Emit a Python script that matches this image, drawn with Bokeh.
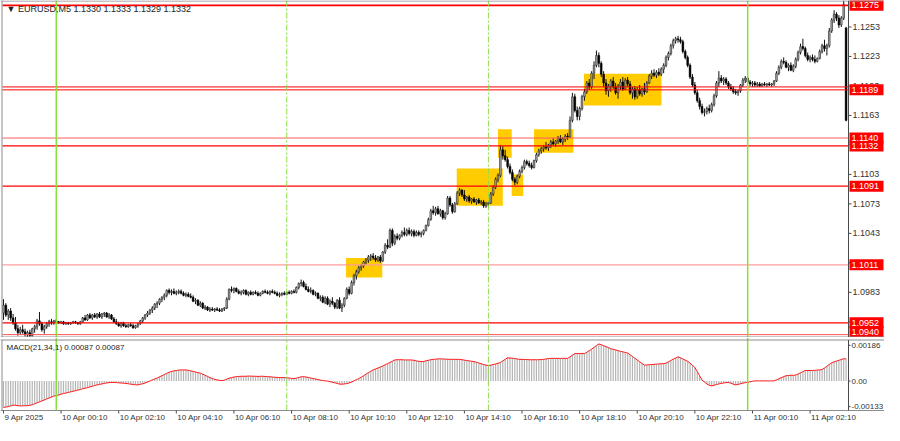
from bokeh.plotting import figure
from bokeh.models import ColumnDataSource, Range1d, Span, Label
from bokeh.core.properties import value
from bokeh.layouts import column
from bokeh.embed import file_html
from bokeh.resources import INLINE

# ---------------- data ----------------
SYMBOL_HEADER = "\u25bc EURUSD,M5 1.1330 1.1333 1.1329 1.1332"
MACD_HEADER = "MACD(21,34,1) 0.00087 0.00087"
PRICE_BASE = 1.0900
PIP = 0.0001

# M5 bars from 9 Apr 2025 22:10, prices in pips above PRICE_BASE
OPEN_PIPS = [
    62, 70, 60, 64, 57, 52, 46, 42, 45, 43, 40, 42, 39, 46, 48, 54,
    51, 45, 48, 51, 53, 52, 54, 53, 52, 53, 51, 52, 51, 52, 53, 52,
    51, 53, 57, 55, 60, 57, 60, 58, 61, 58, 61, 62, 58, 60, 56, 53,
    51, 49, 52, 49, 48, 50, 49, 47, 49, 51, 54, 57, 60, 62, 65, 67,
    71, 72, 76, 78, 80, 85, 83, 84, 82, 83, 84, 82, 80, 81, 79, 78,
    74, 75, 70, 72, 67, 68, 65, 66, 65, 66, 65, 64, 66, 67, 76, 86,
    85, 87, 84, 82, 83, 85, 81, 83, 81, 83, 82, 80, 82, 84, 83, 82,
    84, 83, 82, 80, 81, 82, 81, 83, 82, 84, 83, 88, 92, 93, 89, 86,
    84, 85, 81, 82, 77, 78, 73, 77, 71, 74, 72, 68, 75, 67, 70, 77,
    86, 82, 93, 100, 104, 108, 110, 114, 116, 119, 120, 118, 116, 119, 115, 124,
    131, 129, 146, 133, 140, 138, 141, 144, 142, 146, 143, 145, 141, 144, 142, 143,
    146, 151, 157, 166, 164, 168, 163, 166, 159, 163, 179, 172, 165, 173, 184, 187,
    182, 178, 180, 176, 178, 175, 177, 174, 175, 171, 173, 174, 183, 190, 198, 202,
    228, 222, 218, 211, 205, 198, 195, 201, 206, 210, 216, 214, 212, 210, 217, 223,
    227, 229, 231, 230, 233, 236, 234, 237, 240, 236, 239, 242, 241, 258, 282, 268,
    262, 270, 282, 287, 296, 292, 306, 314, 324, 316, 305, 296, 288, 293, 298, 292,
    286, 293, 297, 290, 299, 295, 286, 290, 282, 289, 285, 290, 287, 296, 303, 306,
    304, 307, 305, 310, 314, 322, 326, 334, 339, 341, 340, 338, 328, 322, 314, 302,
    294, 286, 278, 272, 266, 267, 270, 268, 274, 283, 296, 301, 298, 300, 296, 292,
    290, 287, 286, 288, 294, 299, 301, 297, 295, 296, 294, 295, 293, 295, 294, 295,
    294, 295, 298, 306, 312, 318, 317, 312, 314, 309, 313, 320, 327, 333, 331, 324,
    320, 322, 320, 318, 321, 328, 334, 331, 334, 349, 360, 366, 362, 355, 362, 352,
]
HIGH_PIPS = [
    76, 72, 66, 67, 61, 58, 50, 48, 50, 46, 44, 45, 47, 50, 56, 63,
    53, 50, 53, 55, 56, 55, 56, 54, 54, 54, 53, 53, 53, 54, 54, 53,
    54, 58, 60, 61, 62, 61, 62, 62, 63, 62, 63, 63, 62, 61, 58, 56,
    53, 53, 53, 51, 51, 52, 51, 50, 52, 55, 58, 61, 64, 66, 69, 72,
    74, 77, 79, 82, 86, 87, 86, 87, 85, 86, 86, 84, 83, 83, 82, 80,
    77, 76, 74, 73, 70, 69, 68, 68, 67, 68, 67, 67, 68, 78, 87, 89,
    88, 88, 86, 85, 86, 86, 84, 85, 84, 85, 84, 83, 85, 86, 85, 85,
    86, 85, 84, 83, 83, 84, 84, 85, 85, 86, 89, 93, 96, 95, 92, 89,
    88, 86, 84, 83, 80, 80, 79, 79, 76, 78, 73, 76, 78, 72, 78, 88,
    89, 95, 102, 106, 110, 112, 115, 118, 121, 122, 123, 121, 120, 121, 125, 133,
    137, 148, 148, 142, 143, 142, 146, 149, 148, 149, 147, 147, 146, 146, 145, 147,
    152, 159, 168, 171, 170, 171, 168, 167, 165, 181, 181, 174, 175, 186, 189, 188,
    187, 181, 182, 179, 180, 178, 179, 177, 177, 175, 176, 185, 192, 200, 204, 233,
    232, 228, 221, 214, 208, 200, 203, 208, 212, 218, 218, 217, 215, 218, 225, 229,
    231, 233, 236, 234, 238, 240, 238, 242, 243, 241, 244, 245, 262, 286, 285, 272,
    272, 284, 290, 298, 300, 308, 318, 329, 327, 318, 308, 300, 295, 300, 302, 296,
    295, 300, 302, 301, 302, 298, 292, 293, 292, 294, 291, 296, 298, 305, 309, 310,
    309, 311, 312, 316, 324, 328, 336, 341, 343, 344, 343, 340, 330, 324, 316, 305,
    297, 289, 281, 275, 270, 272, 274, 276, 285, 298, 308, 304, 302, 302, 298, 295,
    293, 290, 289, 295, 301, 303, 302, 299, 298, 298, 297, 297, 296, 297, 296, 297,
    296, 299, 308, 314, 320, 322, 319, 316, 317, 315, 322, 329, 336, 341, 333, 327,
    324, 325, 324, 322, 330, 336, 340, 336, 352, 362, 370, 368, 365, 364, 380, 353,
]
LOW_PIPS = [
    55, 58, 55, 54, 50, 44, 39, 40, 41, 38, 37, 37, 38, 42, 45, 49,
    43, 41, 46, 48, 50, 50, 51, 51, 51, 50, 50, 50, 50, 51, 51, 50,
    50, 52, 54, 54, 56, 55, 57, 56, 57, 56, 58, 57, 56, 55, 52, 50,
    48, 47, 48, 47, 47, 48, 46, 46, 47, 50, 52, 55, 58, 60, 62, 65,
    67, 70, 73, 75, 78, 81, 80, 81, 80, 81, 81, 79, 78, 78, 77, 73,
    71, 69, 68, 66, 65, 64, 63, 64, 63, 64, 63, 63, 64, 66, 75, 83,
    82, 83, 81, 80, 81, 80, 79, 80, 80, 81, 79, 79, 81, 82, 81, 80,
    82, 81, 79, 78, 79, 80, 80, 81, 81, 82, 82, 86, 89, 88, 85, 83,
    82, 80, 79, 76, 74, 72, 71, 70, 68, 70, 66, 66, 66, 63, 68, 76,
    80, 81, 90, 96, 102, 105, 108, 111, 113, 115, 116, 114, 114, 113, 114, 122,
    127, 128, 130, 131, 136, 136, 139, 140, 140, 141, 140, 139, 140, 140, 139, 141,
    145, 150, 156, 162, 161, 162, 160, 157, 157, 162, 170, 163, 164, 172, 181, 180,
    176, 175, 174, 173, 174, 172, 173, 172, 169, 169, 170, 173, 181, 188, 195, 200,
    218, 216, 209, 203, 196, 192, 193, 199, 204, 208, 212, 210, 208, 209, 215, 221,
    224, 226, 228, 227, 230, 232, 231, 234, 235, 233, 236, 238, 240, 256, 266, 258,
    258, 268, 278, 285, 289, 290, 300, 312, 312, 302, 292, 284, 282, 287, 290, 284,
    280, 289, 288, 289, 292, 284, 280, 279, 280, 283, 282, 284, 286, 295, 300, 302,
    301, 303, 303, 306, 312, 319, 324, 331, 336, 337, 336, 326, 320, 312, 300, 292,
    284, 276, 269, 264, 262, 264, 265, 266, 272, 281, 292, 296, 294, 294, 290, 288,
    285, 284, 283, 286, 292, 296, 296, 293, 292, 292, 292, 292, 292, 293, 292, 293,
    292, 293, 297, 304, 310, 315, 311, 308, 308, 307, 311, 318, 325, 329, 322, 318,
    317, 318, 316, 317, 320, 326, 328, 324, 332, 347, 357, 359, 352, 353, 360, 257,
]
CLOSE_PIPS = [
    70, 60, 64, 57, 52, 46, 42, 45, 43, 40, 42, 39, 46, 48, 54, 51,
    45, 48, 51, 53, 52, 54, 53, 52, 53, 51, 52, 51, 52, 53, 52, 51,
    53, 57, 55, 60, 57, 60, 58, 61, 58, 61, 62, 58, 60, 56, 53, 51,
    49, 52, 49, 48, 50, 49, 47, 49, 51, 54, 57, 60, 62, 65, 67, 71,
    72, 76, 78, 80, 85, 83, 84, 82, 83, 84, 82, 80, 81, 79, 78, 74,
    75, 70, 72, 67, 68, 65, 66, 65, 66, 65, 64, 66, 67, 76, 86, 85,
    87, 84, 82, 83, 85, 81, 83, 81, 83, 82, 80, 82, 84, 83, 82, 84,
    83, 82, 80, 81, 82, 81, 83, 82, 84, 83, 88, 92, 93, 89, 86, 84,
    85, 81, 82, 77, 78, 73, 77, 71, 74, 72, 68, 75, 67, 70, 77, 86,
    82, 93, 100, 104, 108, 110, 114, 116, 119, 120, 118, 116, 119, 115, 124, 131,
    129, 146, 133, 140, 138, 141, 144, 142, 146, 143, 145, 141, 144, 142, 143, 146,
    151, 157, 166, 164, 168, 163, 166, 159, 163, 179, 172, 165, 173, 184, 187, 182,
    178, 180, 176, 178, 175, 177, 174, 175, 171, 173, 174, 183, 190, 198, 202, 228,
    222, 218, 211, 205, 198, 195, 201, 206, 210, 216, 214, 212, 210, 217, 223, 227,
    229, 231, 230, 233, 236, 234, 237, 240, 236, 239, 242, 241, 258, 282, 268, 262,
    270, 282, 287, 296, 292, 306, 314, 324, 316, 305, 296, 288, 293, 298, 292, 286,
    293, 297, 290, 299, 295, 286, 290, 282, 289, 285, 290, 287, 296, 303, 306, 304,
    307, 305, 310, 314, 322, 326, 334, 339, 341, 340, 338, 328, 322, 314, 302, 294,
    286, 278, 272, 266, 267, 270, 268, 274, 283, 296, 301, 298, 300, 296, 292, 290,
    287, 286, 288, 294, 299, 301, 297, 295, 296, 294, 295, 293, 295, 294, 295, 294,
    295, 298, 306, 312, 318, 317, 312, 314, 309, 313, 320, 327, 333, 331, 324, 320,
    322, 320, 318, 321, 328, 334, 331, 334, 349, 360, 366, 362, 355, 362, 376, 258,
]
# MACD(21,34,1) main (= signal), in units of 0.00001
MACD_E5 = [
    -137, -135, -133, -129, -125, -126, -128, -129, -129, -128, -128, -126, -123, -118, -113, -108,
    -103, -98, -93, -88, -83, -78, -75, -72, -68, -65, -62, -59, -56, -53, -50, -47,
    -44, -40, -37, -34, -30, -27, -23, -20, -17, -15, -12, -10, -8, -7, -7, -8,
    -9, -10, -11, -12, -14, -16, -18, -19, -20, -17, -14, -10, -5, 0, 6, 11,
    16, 22, 28, 34, 40, 46, 50, 53, 55, 57, 58, 58, 58, 56, 53, 50,
    47, 44, 41, 36, 30, 24, 18, 13, 9, 6, 4, 2, 5, 10, 15, 18,
    21, 23, 24, 25, 25, 25, 26, 26, 25, 25, 24, 25, 25, 24, 23, 22,
    21, 20, 19, 18, 18, 18, 17, 16, 14, 13, 15, 19, 22, 23, 21, 19,
    16, 13, 11, 8, 5, 3, 1, 0, -3, -6, -9, -12, -16, -16, -15, -13,
    -10, -5, 1, 7, 13, 20, 28, 36, 44, 51, 58, 63, 68, 73, 78, 85,
    91, 97, 103, 110, 111, 111, 111, 110, 110, 110, 110, 108, 105, 103, 101, 102,
    105, 108, 111, 113, 114, 115, 116, 115, 114, 114, 113, 113, 113, 113, 113, 111,
    109, 107, 105, 103, 101, 98, 94, 90, 86, 83, 80, 83, 86, 89, 93, 96,
    105, 113, 121, 120, 119, 117, 115, 113, 113, 112, 112, 111, 111, 111, 111, 111,
    112, 113, 115, 117, 118, 118, 118, 118, 118, 118, 118, 118, 126, 135, 143, 143,
    143, 143, 143, 150, 158, 166, 175, 185, 193, 189, 184, 179, 174, 168, 165, 162,
    158, 155, 152, 149, 146, 137, 128, 119, 110, 101, 92, 83, 84, 85, 86, 87,
    88, 89, 90, 91, 93, 100, 107, 114, 120, 126, 121, 115, 109, 103, 93, 82,
    71, 49, 27, 5, -5, -15, -22, -25, -22, -18, -15, -12, -10, -8, -7, -11,
    -16, -20, -17, -14, -11, -8, -7, -4, -1, 1, 1, 1, 1, 1, 1, 1,
    1, 1, 6, 12, 18, 23, 28, 29, 30, 30, 31, 37, 43, 49, 55, 55,
    55, 55, 56, 57, 58, 60, 68, 77, 86, 95, 100, 104, 108, 112, 116, 116,
]

LEVELS = [1.1275, 1.1192, 1.1189, 1.1140, 1.1132, 1.1091, 1.1011, 1.0952, 1.0940]
LEVEL_TAGS = [1.1275, 1.1189, 1.1140, 1.1132, 1.1091, 1.1011, 1.0952, 1.0940]
PRICE_TICKS = [1.0953, 1.0983, 1.1013, 1.1043, 1.1073, 1.1103, 1.1133, 1.1163, 1.1193, 1.1223, 1.1253]
MACD_TICKS = [-0.00133, 0.0, 0.00186]
MACD_TICK_TEXT = ["-0.00133", "0.00", "0.00186"]
TIME_TICK_BARS = [0, 24, 48, 72, 96, 120, 144, 168, 192, 216, 240, 264, 288, 312, 336]
TIME_TICK_TEXT = ["9 Apr 2025", "10 Apr 00:10", "10 Apr 02:10", "10 Apr 04:10", "10 Apr 06:10",
                  "10 Apr 08:10", "10 Apr 10:10", "10 Apr 12:10", "10 Apr 14:10", "10 Apr 16:10",
                  "10 Apr 18:10", "10 Apr 20:10", "10 Apr 22:10", "11 Apr 00:10", "11 Apr 02:10"]
DAY_START_BARS = [22, 310]
SESSION_BARS = [118, 202]
ZONE_START = [142.7, 188.8, 206.0, 211.7, 221.0, 241.8]
ZONE_END = [157.8, 208.0, 211.7, 216.5, 237.4, 274.1]
ZONE_TOP = [1.1018, 1.1109, 1.1149, 1.1103, 1.1149, 1.12055]
ZONE_BOTTOM = [1.0998, 1.1071, 1.1120, 1.1081, 1.1125, 1.1173]

# ---------------- layout / styles ----------------
FONT = "Liberation Sans"
W = 884
H1, H2 = 337, 88
SCALE_W = 36                              # width of the price scale, px
CHART_X0, CHART_X1 = -0.4, 352.0          # bar range of the chart area
PX_BAR = (W - 2.0 - SCALE_W) / (CHART_X1 - CHART_X0)
XR = Range1d(CHART_X0 - 2.0 / PX_BAR, CHART_X1 + SCALE_W / PX_BAR)

P_TOP, P_BOT = 1.12789, 1.09381           # price at chart top/bottom
PX_P = 335.0 / (P_TOP - P_BOT)
Y1R = Range1d(P_BOT - 1.0 / PX_P, P_TOP + 1.0 / PX_P)

M_TOP, M_BOT = 0.00211, -0.00153
PX_M = 70.0 / (M_TOP - M_BOT)
Y2R = Range1d(M_BOT - 15.0 / PX_M, M_TOP + 3.0 / PX_M)

LEVEL_COLOR = ["#ff0000", "#ff0000", "#ff0000", "#ff5a5a", "#ff0000", "#ff0000", "#ff9c9c", "#ff0000", "#ff5050"]
LEVEL_WIDTH = [1.6, 1.0, 1.0, 1.0, 1.2, 1.3, 1.2, 1.3, 1.0]
BORDER = "#8c8c8c"
AXIS = "#4a4a4a"
TXT = "#333333"
LIME = "#86e03c"
LIME_DASH = "#8edc4a"


def make_fig(h, yr):
    f = figure(frame_width=W, frame_height=h, x_range=XR, y_range=yr, output_backend="svg",
               toolbar_location=None, x_axis_location=None, y_axis_location=None,
               min_border=0, outline_line_color=None,
               background_fill_color="white", border_fill_color="white")
    f.grid.visible = False
    return f


# ---------------- price panel ----------------
n = min(len(OPEN_PIPS), len(HIGH_PIPS), len(LOW_PIPS), len(CLOSE_PIPS))
idx = list(range(n))
o = [PRICE_BASE + v * PIP for v in OPEN_PIPS[:n]]
h = [PRICE_BASE + v * PIP for v in HIGH_PIPS[:n]]
l = [PRICE_BASE + v * PIP for v in LOW_PIPS[:n]]
c = [PRICE_BASE + v * PIP for v in CLOSE_PIPS[:n]]
bull = [cc >= oo for oo, cc in zip(o, c)]
src = ColumnDataSource(dict(
    x=idx, h=h, l=l,
    top=[max(a, b) for a, b in zip(o, c)],
    bot=[min(a, b) for a, b in zip(o, c)],
    fill=["#a8a8a8" if b else "#000000" for b in bull],
    edge=["#2a2a2a" if b else "#000000" for b in bull],
))

p1 = make_fig(H1, Y1R)
p1.quad(left=ZONE_START, right=ZONE_END, top=ZONE_TOP, bottom=ZONE_BOTTOM,
        fill_color="#ffcc00", line_color=None)
p1.segment(x0="x", y0="l", x1="x", y1="h", source=src, line_color="#111111", line_width=1)
p1.vbar(x="x", top="top", bottom="bot", width=0.7, fill_color="fill", line_color="edge",
        line_width=0.6, source=src)

nl = len(LEVELS)
p1.segment(x0=[CHART_X0] * nl, y0=LEVELS, x1=[CHART_X1] * nl, y1=LEVELS,
           line_color=LEVEL_COLOR, line_width=LEVEL_WIDTH)

for b in DAY_START_BARS:
    p1.add_layout(Span(location=b, dimension="height", line_color=LIME, line_width=1.5))
for b in SESSION_BARS:
    p1.add_layout(Span(location=b, dimension="height", line_color=LIME_DASH, line_width=1,
                       line_dash="6 2 2 2"))

# frame lines
p1.add_layout(Span(location=P_TOP + 0.5 / PX_P, dimension="width", line_color=BORDER, line_width=1))
p1.add_layout(Span(location=P_BOT - 0.5 / PX_P, dimension="width", line_color=BORDER, line_width=1))
p1.add_layout(Span(location=CHART_X0 - 0.5 / PX_BAR, dimension="height", line_color=BORDER, line_width=1))
p1.add_layout(Span(location=CHART_X1, dimension="height", line_color=AXIS, line_width=1))

# price scale
nt = len(PRICE_TICKS)
p1.segment(x0=[CHART_X1] * nt, y0=PRICE_TICKS, x1=[CHART_X1 + 3.0 / PX_BAR] * nt, y1=PRICE_TICKS,
           line_color=AXIS, line_width=1)
p1.text(x=[CHART_X1 + 4.0 / PX_BAR] * nt, y=PRICE_TICKS, text=[f"{t:.4f}" for t in PRICE_TICKS],
        text_font=value(FONT), text_font_size=value("9px"), text_color=TXT,
        text_align="left", text_baseline="middle")
ng = len(LEVEL_TAGS)
tag_floor = P_BOT + 5.0 / PX_P           # keep the lowest tag inside the panel
tag_y = [max(t, tag_floor) for t in LEVEL_TAGS]
p1.rect(x=[CHART_X1 + 18.0 / PX_BAR] * ng, y=tag_y, width=34, height=11,
        width_units="screen", height_units="screen", fill_color="#ff0000", line_color=None)
p1.text(x=[CHART_X1 + 3.0 / PX_BAR] * ng, y=tag_y, text=[f"{t:.4f}" for t in LEVEL_TAGS],
        text_font=value(FONT), text_font_size=value("9px"), text_color="white",
        text_align="left", text_baseline="middle")

p1.add_layout(Label(x=CHART_X0, y=P_TOP, x_offset=4, y_offset=-2, text=SYMBOL_HEADER,
                    text_font=FONT, text_font_size="9px", text_color="#222222",
                    text_baseline="top", text_align="left"))

# ---------------- MACD panel ----------------
p2 = make_fig(H2, Y2R)
m = [v * 1e-5 for v in MACD_E5[:n]]
p2.vbar(x=idx, top=m, bottom=0, width=0.5, fill_color="#b4b4b4", line_color=None)
p2.line(idx, m, line_color="#ff1a1a", line_width=1)

p2.segment(x0=DAY_START_BARS, y0=[M_BOT] * 2, x1=DAY_START_BARS, y1=[M_TOP + 2.5 / PX_M] * 2,
           line_color=LIME, line_width=1.5)
p2.segment(x0=SESSION_BARS, y0=[M_BOT] * 2, x1=SESSION_BARS, y1=[M_TOP + 2.5 / PX_M] * 2,
           line_color=LIME_DASH, line_width=1, line_dash="6 2 2 2")

# frame lines
top2 = M_TOP + 0.5 / PX_M
p2.segment(x0=[XR.start], y0=[top2], x1=[XR.end], y1=[top2], line_color=BORDER, line_width=1)
p2.segment(x0=[XR.start], y0=[M_BOT], x1=[XR.end], y1=[M_BOT], line_color=BORDER, line_width=1)
p2.segment(x0=[CHART_X0 - 0.5 / PX_BAR], y0=[M_BOT], x1=[CHART_X0 - 0.5 / PX_BAR], y1=[top2],
           line_color=BORDER, line_width=1)
p2.segment(x0=[CHART_X1], y0=[M_BOT], x1=[CHART_X1], y1=[top2], line_color=AXIS, line_width=1)

nm = len(MACD_TICKS)
p2.segment(x0=[CHART_X1] * nm, y0=MACD_TICKS, x1=[CHART_X1 + 2.0 / PX_BAR] * nm, y1=MACD_TICKS,
           line_color=AXIS, line_width=1)
p2.text(x=[CHART_X1 + 3.0 / PX_BAR] * nm, y=MACD_TICKS, text=MACD_TICK_TEXT,
        text_font=value(FONT), text_font_size=value("8px"), text_color=TXT,
        text_align="left", text_baseline="middle")

# time scale
nx = len(TIME_TICK_BARS)
p2.segment(x0=TIME_TICK_BARS, y0=[M_BOT] * nx, x1=TIME_TICK_BARS, y1=[M_BOT - 3.0 / PX_M] * nx,
           line_color=AXIS, line_width=1)
p2.text(x=[b + 1.0 / PX_BAR for b in TIME_TICK_BARS], y=[M_BOT - 2.0 / PX_M] * nx, text=TIME_TICK_TEXT,
        text_font=value(FONT), text_font_size=value("8px"), text_color=TXT,
        text_align="left", text_baseline="top")

p2.add_layout(Label(x=CHART_X0, y=M_TOP, x_offset=4, y_offset=-2, text=MACD_HEADER,
                    text_font=FONT, text_font_size="8px", text_color="#222222",
                    text_baseline="top", text_align="left"))

layout = column(p1, p2, spacing=0)
open("out.html", "w").write(file_html(layout, INLINE))
